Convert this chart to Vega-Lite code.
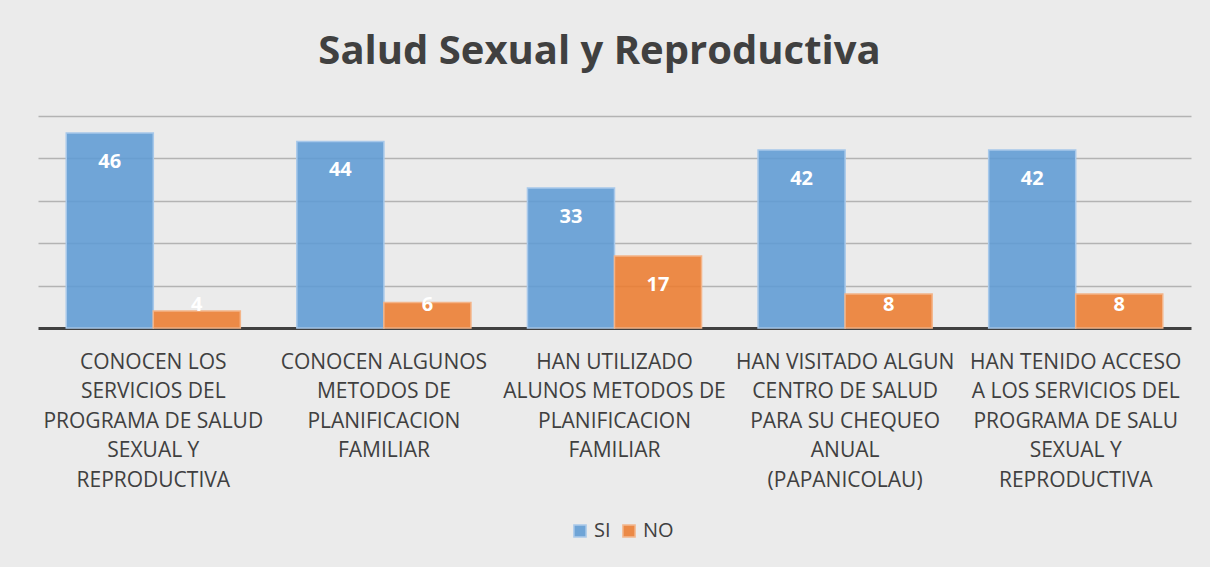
{
  "$schema": "https://vega.github.io/schema/vega-lite/v6.json",
  "autosize": "none",
  "width": 1153,
  "height": 212,
  "padding": {"left": 38, "top": 116, "right": 19, "bottom": 239},
  "background": "#ebebeb",
  "title": {
    "text": "Salud Sexual y Reproductiva",
    "font": "Open Sans",
    "fontSize": 40,
    "fontWeight": "bold",
    "color": "#404040",
    "anchor": "middle",
    "baseline": "alphabetic",
    "offset": 12,
    "dx": -15
  },
  "config": {
    "view": {"stroke": null},
    "font": "Open Sans"
  },
  "data": {
    "values": [
      {"categoria": "CONOCEN LOS|SERVICIOS DEL|PROGRAMA DE SALUD|SEXUAL Y|REPRODUCTIVA", "serie": "SI", "valor": 46},
      {"categoria": "CONOCEN LOS|SERVICIOS DEL|PROGRAMA DE SALUD|SEXUAL Y|REPRODUCTIVA", "serie": "NO", "valor": 4},
      {"categoria": "CONOCEN ALGUNOS|METODOS DE|PLANIFICACION|FAMILIAR", "serie": "SI", "valor": 44},
      {"categoria": "CONOCEN ALGUNOS|METODOS DE|PLANIFICACION|FAMILIAR", "serie": "NO", "valor": 6},
      {"categoria": "HAN UTILIZADO|ALUNOS METODOS DE|PLANIFICACION|FAMILIAR", "serie": "SI", "valor": 33},
      {"categoria": "HAN UTILIZADO|ALUNOS METODOS DE|PLANIFICACION|FAMILIAR", "serie": "NO", "valor": 17},
      {"categoria": "HAN VISITADO ALGUN|CENTRO DE SALUD|PARA SU CHEQUEO|ANUAL|(PAPANICOLAU)", "serie": "SI", "valor": 42},
      {"categoria": "HAN VISITADO ALGUN|CENTRO DE SALUD|PARA SU CHEQUEO|ANUAL|(PAPANICOLAU)", "serie": "NO", "valor": 8},
      {"categoria": "HAN TENIDO ACCESO|A LOS SERVICIOS DEL|PROGRAMA DE SALU|SEXUAL Y|REPRODUCTIVA", "serie": "SI", "valor": 42},
      {"categoria": "HAN TENIDO ACCESO|A LOS SERVICIOS DEL|PROGRAMA DE SALU|SEXUAL Y|REPRODUCTIVA", "serie": "NO", "valor": 8}
    ]
  },
  "encoding": {
    "x": {
      "field": "categoria",
      "type": "nominal",
      "sort": null,
      "scale": {"paddingInner": 0.245, "paddingOuter": 0.1225},
      "axis": {
        "title": null,
        "labelAngle": 0,
        "labelExpr": "split(datum.label, '|')",
        "labelFont": "Open Sans",
        "labelFontSize": 21,
        "labelLineHeight": 29.6,
        "labelColor": "#404040",
        "labelBaseline": "top",
        "labelPadding": 23,
        "labelLimit": 0,
        "ticks": false,
        "domainColor": "#404040",
        "domainWidth": 3,
        "grid": false
      }
    },
    "xOffset": {
      "field": "serie",
      "type": "nominal",
      "sort": ["SI", "NO"],
      "scale": {"paddingInner": 0, "paddingOuter": 0}
    },
    "y": {
      "field": "valor",
      "type": "quantitative",
      "scale": {"domain": [0, 50], "nice": false},
      "axis": {
        "title": null,
        "labels": false,
        "ticks": false,
        "domain": false,
        "values": [10, 20, 30, 40, 50],
        "gridColor": "#b3b3b3",
        "gridWidth": 1.3
      }
    }
  },
  "layer": [
    {
      "mark": {"type": "bar", "fillOpacity": 0.88, "strokeWidth": 1.5},
      "encoding": {
        "color": {
          "field": "serie",
          "type": "nominal",
          "sort": ["SI", "NO"],
          "scale": {"domain": ["SI", "NO"], "range": ["#5f9bd4", "#ec7c30"]},
          "legend": {
            "title": null,
            "orient": "none",
            "legendX": 532,
            "legendY": 405,
            "direction": "horizontal",
            "symbolType": "square",
            "symbolSize": 150,
            "symbolOpacity": 0.88,
            "labelFont": "Open Sans",
            "labelFontSize": 20,
            "labelColor": "#404040",
            "labelOffset": 4,
            "columnPadding": 8
          }
        },
        "stroke": {
          "field": "serie",
          "type": "nominal",
          "scale": {"domain": ["SI", "NO"], "range": ["#a7c8ea", "#f4b488"]},
          "legend": null
        }
      }
    },
    {
      "mark": {
        "type": "text",
        "color": "white",
        "font": "Open Sans",
        "fontWeight": "bold",
        "fontSize": 20,
        "baseline": "middle",
        "dy": {"expr": "min(29, scale('y', 0) - scale('y', datum.valor) - 23)"}
      },
      "encoding": {
        "text": {"field": "valor", "type": "quantitative"}
      }
    }
  ]
}
